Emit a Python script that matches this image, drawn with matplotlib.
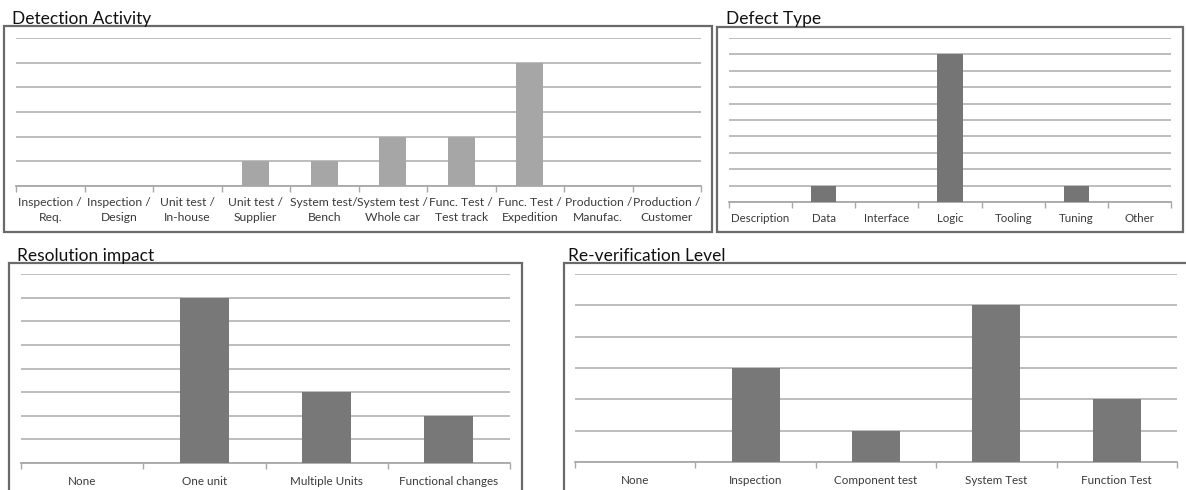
import matplotlib
matplotlib.use("Agg")
import matplotlib.pyplot as plt
from matplotlib.patches import Rectangle
import numpy as np

plt.rcParams['font.family'] = ['Lato', 'DejaVu Sans']

# ---- data ----
det_labels = ["Inspection /\nReq.", "Inspection /\nDesign", "Unit test /\nIn-house",
              "Unit test /\nSupplier", "System test/\nBench", "System test /\nWhole car",
              "Func. Test /\nTest track", "Func. Test /\nExpedition", "Production /\nManufac.",
              "Production /\nCustomer"]
det_values = [0, 0, 0, 1, 1, 2, 2, 5, 0, 0]

def_labels = ["Description", "Data", "Interface", "Logic", "Tooling", "Tuning", "Other"]
def_values = [0, 1, 0, 9, 0, 1, 0]

res_labels = ["None", "One unit", "Multiple Units", "Functional changes"]
res_values = [0, 7, 3, 2]

rev_labels = ["None", "Inspection", "Component test", "System Test", "Function Test"]
rev_values = [0, 3, 1, 5, 2]

W, H = 1186, 490
fig = plt.figure(figsize=(W / 100, H / 100), dpi=100)
fig.patch.set_facecolor('white')

FRAME = '#6A6A6A'
GRID = '#B8B8B8'
AXIS = '#A8A8A8'


def frame(l, t, r, b):
    fig.patches.append(Rectangle((l / W, 1 - b / H), (r - l) / W, (b - t) / H,
                                 transform=fig.transFigure, fill=False,
                                 edgecolor=FRAME, linewidth=1.6, zorder=0))


def panel(l, t, r, b, labels, values, ymax, color, title, tx, ty, fs=8.5, pad=7):
    ax = fig.add_axes([l / W, 1 - b / H, (r - l) / W, (b - t) / H])
    n = len(labels)
    x = np.arange(n)
    ax.bar(x, values, width=0.4, color=color, zorder=3)
    ax.set_xlim(-0.5, n - 0.5)
    ax.set_ylim(0, ymax)
    ax.set_yticks(np.arange(0, ymax + 1))
    ax.yaxis.grid(True, color=GRID, linewidth=1.3, zorder=0)
    ax.set_axisbelow(True)
    ax.tick_params(axis='y', length=0, labelleft=False)
    for s in ('left', 'right', 'top'):
        ax.spines[s].set_visible(False)
    ax.spines['bottom'].set_color(AXIS)
    ax.spines['bottom'].set_linewidth(1.3)
    ax.set_xticks(x)
    ax.set_xticklabels(labels, fontsize=fs, color='#3a3a3a', linespacing=1.45)
    ax.tick_params(axis='x', which='major', length=0, pad=pad)
    ax.set_xticks(np.arange(-0.5, n, 1.0), minor=True)
    ax.tick_params(axis='x', which='minor', length=4, color=AXIS, width=1, direction='out')
    ax.set_facecolor('none')
    fig.text(tx / W, 1 - ty / H, title, fontsize=12.5, color='#111111',
             ha='left', va='baseline')
    return ax


frame(4, 26, 712, 232)
frame(717, 27, 1183, 232)
frame(9, 263, 522, 500)
frame(564, 263, 1195, 500)

panel(16, 38, 701, 186, det_labels, det_values, 6, '#A6A6A6',
      'Detection Activity', 12, 24, fs=8.7, pad=8)
panel(729, 38, 1171, 202, def_labels, def_values, 10, '#757575',
      'Defect Type', 726, 24, fs=8.3, pad=8)
panel(21, 274, 510, 463, res_labels, res_values, 8, '#787878',
      'Resolution impact', 17, 261, fs=8.4, pad=9)
panel(575, 274, 1177, 462, rev_labels, rev_values, 6, '#787878',
      'Re-verification Level', 568, 261, fs=8.4, pad=9)

fig.savefig('out.png', dpi=100)
